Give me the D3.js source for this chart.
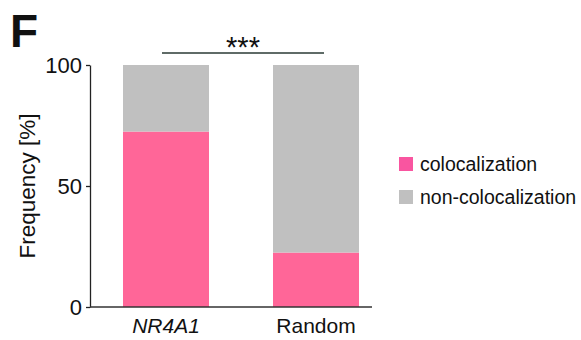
<!DOCTYPE html>
<html>
<head>
<meta charset="utf-8">
<script src="https://cdn.jsdelivr.net/npm/d3@7"></script>
<style>
  body { margin: 0; background: #fff; }
  text { font-family: Arial, "Liberation Sans", sans-serif; fill: #111; }
</style>
</head>
<body>
<div id="chart"></div>
<script>
// data
var categories = ["NR4A1", "Random"];
var colocalization = [72.5, 22.5];
var nonColocalization = [27.5, 77.5];
var yTicks = [0, 50, 100];
var seriesNames = ["colocalization", "non-colocalization"];
var colors = ["#ff6698", "#c0c0c0"];

var width = 581,
    height = 340;

var svg = d3.select("#chart").append("svg")
    .attr("width", width)
    .attr("height", height);

var y = d3.scaleLinear().domain([0, 100]).range([307, 65]);
var x = d3.scaleBand().domain(categories).range([91, 391]).paddingInner(0.4267).paddingOuter(0.2133);

// stacked rows
var rows = categories.map(function(c, i) {
  return { cat: c, colocalization: colocalization[i], "non-colocalization": nonColocalization[i] };
});
var stack = d3.stack().keys(seriesNames)(rows);

svg.append("g").selectAll("g")
    .data(stack)
  .enter().append("g")
    .attr("fill", function(d, i) { return colors[i]; })
  .selectAll("rect")
    .data(function(d) { return d; })
  .enter().append("rect")
    .attr("x", function(d) { return x(d.data.cat); })
    .attr("width", x.bandwidth())
    .attr("y", function(d) { return y(d[1]); })
    .attr("height", function(d) { return y(d[0]) - y(d[1]); });

// y axis
var yAxis = svg.append("g")
    .attr("transform", "translate(90,0)")
    .call(d3.axisLeft(y).tickValues(yTicks).tickSize(4).tickSizeOuter(0).tickPadding(4));
yAxis.select(".domain").attr("stroke", "#222").attr("stroke-width", 1.3);
yAxis.selectAll(".tick line").attr("stroke", "#222").attr("stroke-width", 1.3);
yAxis.selectAll(".tick text")
    .style("font-size", "22px")
    .attr("fill", "#111")
    .attr("dy", "0.36em");

// x baseline
svg.append("line")
    .attr("x1", 90).attr("x2", 372)
    .attr("y1", y(0)).attr("y2", y(0))
    .attr("stroke", "#333").attr("stroke-width", 1.3);

// category labels
svg.append("g").selectAll("text")
    .data(categories)
  .enter().append("text")
    .attr("x", function(d) { return x(d) + x.bandwidth() / 2; })
    .attr("y", 333)
    .attr("text-anchor", "middle")
    .style("font-size", "21px")
    .style("font-style", function(d, i) { return i === 0 ? "italic" : "normal"; })
    .text(function(d) { return d; });

// y label
svg.append("text")
    .attr("transform", "translate(35,186)rotate(-90)")
    .attr("text-anchor", "middle")
    .style("font-size", "22.5px")
    .text("Frequency [%]");

// panel letter
svg.append("text")
    .attr("x", 10).attr("y", 47)
    .style("font-size", "46px")
    .style("font-weight", "bold")
    .text("F");

// significance
svg.append("line")
    .attr("x1", 162).attr("x2", 324)
    .attr("y1", 53).attr("y2", 53)
    .attr("stroke", "#2a3a34").attr("stroke-width", 1.3);
svg.append("text")
    .attr("x", 243).attr("y", 57)
    .attr("text-anchor", "middle")
    .style("font-size", "29px")
    .text("***");

// legend
var legend = svg.append("g").selectAll("g")
    .data(seriesNames)
  .enter().append("g")
    .attr("transform", function(d, i) { return "translate(399," + (157 + i * 33) + ")"; });
legend.append("rect")
    .attr("width", 14).attr("height", 14)
    .attr("fill", function(d, i) { return i === 0 ? "#f955a0" : colors[i]; });
legend.append("text")
    .attr("x", 21).attr("y", 7)
    .attr("dy", "0.35em")
    .style("font-size", "19.5px")
    .text(function(d) { return d; });
</script>
</body>
</html>
